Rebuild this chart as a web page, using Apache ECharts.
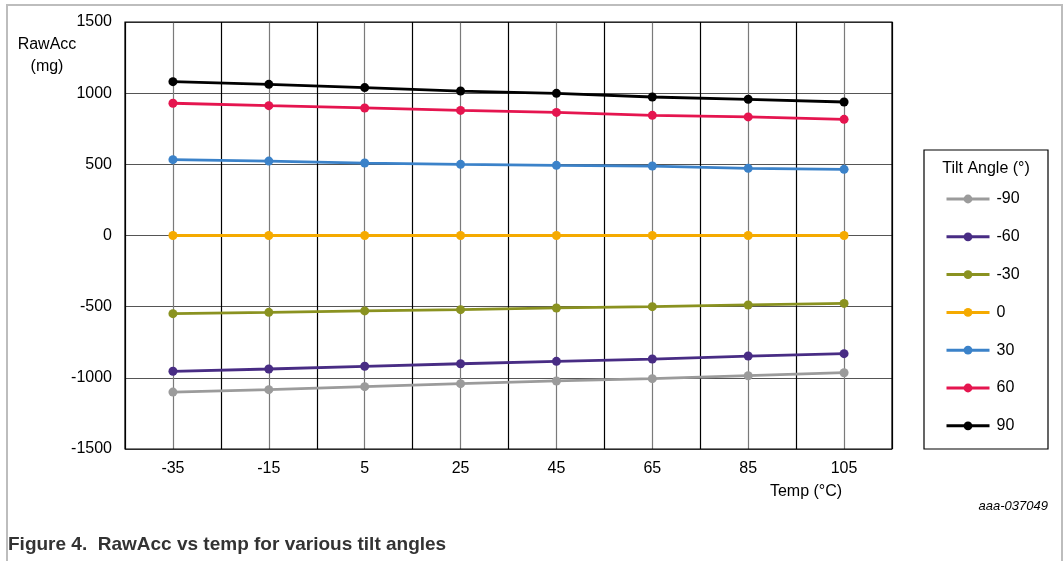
<!DOCTYPE html>
<html>
<head>
<meta charset="utf-8">
<script src="https://cdn.jsdelivr.net/npm/echarts@6/dist/echarts.min.js"></script>
<style>
html,body{margin:0;padding:0;background:#fff;}
#chart{width:1064px;height:561px;}
</style>
</head>
<body>
<div id="chart"></div>
<script>
const temps = [-35, -15, 5, 25, 45, 65, 85, 105];
const xTickLabels = [-35, -15, 5, 25, 45, 65, 85, 105];
const yTicks = [-1500, -1000, -500, 0, 500, 1000, 1500];
const seriesNames = ['-90', '-60', '-30', '0', '30', '60', '90'];
const tiltM90 = [-1100, -1083, -1062, -1041, -1022, -1006, -985, -964];
const tiltM60 = [-954, -938, -919, -901, -884, -868, -847, -830];
const tiltM30 = [-549, -540, -530, -521, -509, -500, -488, -477];
const tilt0 = [0, 0, 0, 0, 0, 0, 0, 0];
const tilt30 = [533, 523, 509, 500, 493, 488, 472, 465];
const tilt60 = [929, 912, 896, 879, 865, 844, 833, 816];
const tilt90 = [1081, 1062, 1039, 1015, 999, 973, 957, 938];
const colors = ['#9b9b9b', '#482c84', '#8a9220', '#f5aa00', '#3b82c9', '#e5154f', '#000000'];

const allValues = [tiltM90, tiltM60, tiltM30, tilt0, tilt30, tilt60, tilt90];
const FONT = 'Liberation Sans, Arial, sans-serif';

const chart = echarts.init(document.getElementById('chart'));
const series = seriesNames.map((name, i) => ({
  name: name,
  type: 'line',
  data: temps.map((t, j) => [t, allValues[i][j]]),
  symbol: 'circle',
  symbolSize: 9,
  lineStyle: { width: 2.8, color: colors[i] },
  itemStyle: { color: colors[i] },
  z: 3 + i
}));

chart.setOption({
  animation: false,
  backgroundColor: '#fff',
  grid: { left: 125, top: 22, right: 172, bottom: 112, show: true, borderColor: '#000', borderWidth: 1.2, z: 10 },
  xAxis: {
    type: 'value', min: -45, max: 115, interval: 10,
    axisLine: { show: false },
    axisTick: { show: false },
    axisLabel: {
      margin: 12, fontFamily: FONT, fontSize: 16, color: '#000',
      formatter: v => xTickLabels.includes(v) ? String(v) : ''
    },
    splitLine: { show: true, lineStyle: { color: ['#000', '#7a7a7a'], width: 1.2 } }
  },
  yAxis: {
    type: 'value', min: yTicks[0], max: yTicks[yTicks.length - 1], interval: 500,
    axisLine: { show: false },
    axisTick: { show: false },
    axisLabel: { margin: 13, fontFamily: FONT, fontSize: 16, color: '#000', formatter: v => String(v) },
    splitLine: { show: true, lineStyle: { color: '#555', width: 1.2 } }
  },
  legend: {
    orient: 'vertical', left: 945, top: 191, padding: 0,
    itemWidth: 43, itemHeight: 11, itemGap: 21.8,
    lineStyle: { width: 3 },
    textStyle: { fontFamily: FONT, fontSize: 16, color: '#000', padding: [0, 0, 0, 2] },
    data: seriesNames
  },
  graphic: [
    { type: 'rect', shape: { x: 7, y: 5, width: 1055, height: 620 }, style: { fill: 'none', stroke: '#bdbdbd', lineWidth: 2 }, silent: true, z: -10 },
    { type: 'rect', shape: { x: 924, y: 150, width: 124, height: 299 }, style: { fill: 'none', stroke: '#000', lineWidth: 1.2 }, silent: true },
    { type: 'text', style: { text: 'Tilt Angle (°)', x: 986, y: 169, fontFamily: FONT, fontSize: 16, fill: '#000', align: 'center', verticalAlign: 'middle' } },
    { type: 'text', style: { text: 'RawAcc', x: 47, y: 45, fontFamily: FONT, fontSize: 16, fill: '#000', align: 'center', verticalAlign: 'middle' } },
    { type: 'text', style: { text: '(mg)', x: 47, y: 67, fontFamily: FONT, fontSize: 16, fill: '#000', align: 'center', verticalAlign: 'middle' } },
    { type: 'text', style: { text: 'Temp (°C)', x: 806, y: 492, fontFamily: FONT, fontSize: 16, fill: '#000', align: 'center', verticalAlign: 'middle' } },
    { type: 'text', style: { text: 'aaa-037049', x: 1048, y: 506, fontFamily: FONT, fontSize: 13, fontStyle: 'italic', fill: '#000', align: 'right', verticalAlign: 'middle' } },
    { type: 'text', style: { text: 'Figure 4.  RawAcc vs temp for various tilt angles', x: 8, y: 545, fontFamily: FONT, fontSize: 19, fontWeight: 'bold', fill: '#333', align: 'left', verticalAlign: 'middle' } }
  ],
  series: series
});
</script>
</body>
</html>
